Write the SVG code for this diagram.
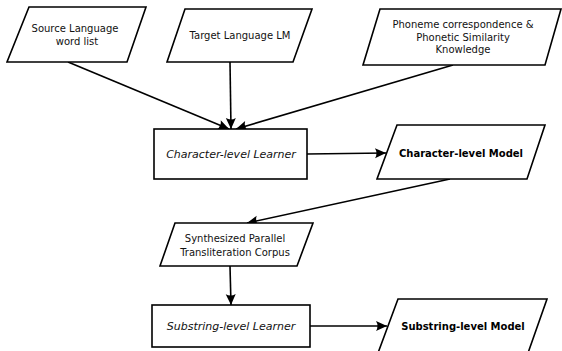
<svg xmlns="http://www.w3.org/2000/svg" width="562" height="351" viewBox="0 0 562 351">
<style>
.shape{fill:#fff;stroke:#000;stroke-width:1.6;stroke-linejoin:miter}
.edge{fill:none;stroke:#000;stroke-width:1.6;marker-end:url(#arr)}
text{font-family:"DejaVu Sans","Liberation Sans",sans-serif;font-size:10px;fill:#111;text-anchor:middle}
.it{font-style:italic;font-size:11px}
.bd{font-weight:bold;fill:#000}
</style>
<defs>
<marker id="arr" markerUnits="userSpaceOnUse" markerWidth="14" markerHeight="12" viewBox="-1 -6 13 12" refX="11" refY="0" orient="auto">
<path d="M0,-5 L11,0 L0,5 Q3,0 0,-5 Z" fill="#000"/>
</marker>
</defs>
<rect width="562" height="351" fill="#fff"/>
<g id="connectors">
<line class="edge" x1="68" y1="62" x2="229" y2="129"/>
<line class="edge" x1="230" y1="62" x2="231" y2="129"/>
<line class="edge" x1="453" y1="65" x2="236" y2="129"/>
<line class="edge" x1="307" y1="154" x2="386" y2="153"/>
<line class="edge" x1="450" y1="179" x2="247" y2="223"/>
<line class="edge" x1="230" y1="266" x2="231" y2="305"/>
<line class="edge" x1="310" y1="326" x2="387" y2="326"/>
</g>
<g id="source">
<polygon class="shape" points="29,7 146,7 127,62 7,62"/>
<text x="75" y="32">Source Language</text>
<text x="77" y="45">word list</text>
</g>
<g id="target">
<polygon class="shape" points="185,9 312,9 293,62 167,62"/>
<text x="240" y="39">Target Language LM</text>
</g>
<g id="phoneme">
<polygon class="shape" points="380,9 561,9 545,65 363,65"/>
<text x="463" y="28">Phoneme correspondence &amp;</text>
<text x="463" y="41">Phonetic Similarity</text>
<text x="463" y="53">Knowledge</text>
</g>
<g id="charLearner">
<rect class="shape" x="154" y="129" width="153" height="50"/>
<text class="it" x="231" y="158">Character-level Learner</text>
</g>
<g id="charModel">
<polygon class="shape" points="397,125 545,125 527,179 377,179"/>
<text class="bd" x="461" y="157">Character-level Model</text>
</g>
<g id="synth">
<polygon class="shape" points="175,223 313,223 297,266 160,266"/>
<text x="235" y="242">Synthesized Parallel</text>
<text x="235" y="256">Transliteration Corpus</text>
</g>
<g id="subLearner">
<rect class="shape" x="152" y="305" width="158" height="42"/>
<text class="it" x="231" y="330">Substring-level Learner</text>
</g>
<g id="subModel">
<polygon class="shape" points="398,299 547,299 528,353 378,353"/>
<text class="bd" x="463" y="330">Substring-level Model</text>
</g>
</svg>
